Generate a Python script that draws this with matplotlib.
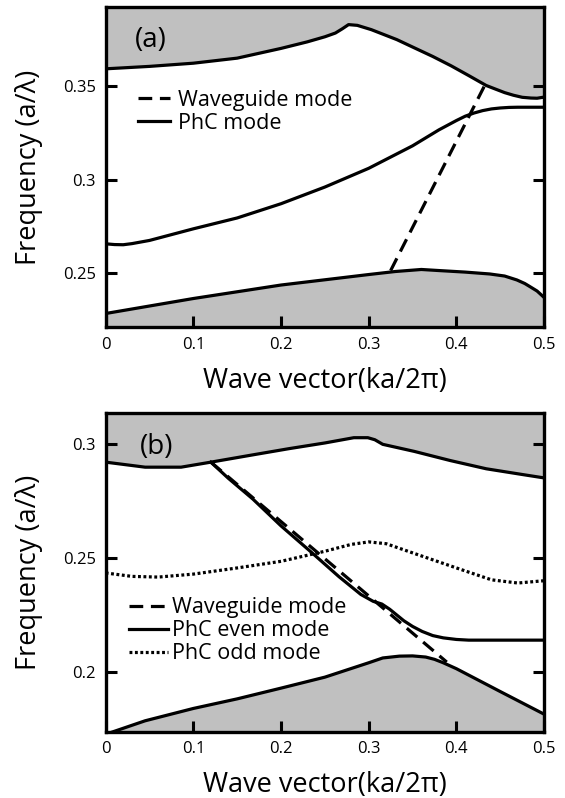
import numpy as np
import matplotlib
matplotlib.use('Agg')
import matplotlib.pyplot as plt

plt.rcParams['font.family'] = ['Open Sans', 'DejaVu Sans']

# ---- panel (a) data ----
a_upper_x = [0, 0.05, 0.1, 0.15, 0.2, 0.23, 0.25, 0.262, 0.27, 0.277, 0.287, 0.303, 0.332,
             0.352, 0.373, 0.394, 0.414, 0.434, 0.445, 0.455, 0.465, 0.475, 0.485, 0.492, 0.5]
a_upper_y = [0.3591, 0.3604, 0.3621, 0.3648, 0.3700, 0.3735, 0.3762, 0.3782, 0.3805, 0.3827,
             0.3823, 0.3800, 0.3747, 0.3703, 0.3657, 0.3607, 0.3555, 0.3502, 0.3482, 0.3464,
             0.3450, 0.3439, 0.3435, 0.3434, 0.3440]
a_lower_x = [0, 0.1, 0.2, 0.3, 0.33, 0.36, 0.381, 0.41, 0.438, 0.455, 0.469, 0.478, 0.484,
             0.492, 0.499]
a_lower_y = [0.2285, 0.2365, 0.2437, 0.2493, 0.2509, 0.2520, 0.2514, 0.2506, 0.2496, 0.2485,
             0.2464, 0.2445, 0.2428, 0.2405, 0.2375]
a_phc_x = [0, 0.01, 0.02, 0.03, 0.05, 0.1, 0.15, 0.2, 0.25, 0.3, 0.35, 0.38, 0.4, 0.41, 0.42,
           0.43, 0.44, 0.45, 0.46, 0.47, 0.5]
a_phc_y = [0.2657, 0.2653, 0.2652, 0.2658, 0.2675, 0.2737, 0.2795, 0.2871, 0.2960, 0.3060,
           0.3180, 0.3265, 0.3315, 0.3338, 0.3355, 0.3368, 0.3377, 0.3382, 0.3385, 0.3386,
           0.3386]
a_wg_x = [0.325, 0.432]
a_wg_y = [0.2514, 0.3500]

# ---- panel (b) data ----
b_upper_x = [0, 0.045, 0.086, 0.12, 0.168, 0.209, 0.25, 0.283, 0.299, 0.307, 0.316, 0.352,
             0.393, 0.434, 0.475, 0.5]
b_upper_y = [0.2919, 0.2897, 0.2897, 0.2919, 0.2951, 0.2978, 0.3003, 0.3026, 0.3026, 0.3017,
             0.2997, 0.2966, 0.2926, 0.2890, 0.2865, 0.2850]
b_lower_x = [0, 0.045, 0.1, 0.15, 0.2, 0.25, 0.3, 0.316, 0.335, 0.35, 0.365, 0.375, 0.385,
             0.4, 0.45, 0.5]
b_lower_y = [0.1728, 0.1787, 0.1841, 0.1883, 0.1930, 0.1978, 0.2041, 0.2062, 0.2070, 0.2071,
             0.2066, 0.2056, 0.2041, 0.2015, 0.1915, 0.1816]
b_wg_x = [0.12, 0.389]
b_wg_y = [0.2919, 0.2044]
b_even_x = [0.12, 0.14, 0.168, 0.2, 0.2336, 0.266, 0.291, 0.305, 0.315, 0.324, 0.34, 0.35,
            0.361, 0.373, 0.385, 0.4, 0.414, 0.5]
b_even_y = [0.2919, 0.2848, 0.2757, 0.2640, 0.2528, 0.2418, 0.2340, 0.2310, 0.2298, 0.2275,
            0.2225, 0.2200, 0.2178, 0.2160, 0.2150, 0.2143, 0.2140, 0.2140]
b_odd_x = [0, 0.03, 0.06, 0.1, 0.15, 0.2, 0.25, 0.28, 0.3, 0.32, 0.35, 0.4, 0.44, 0.47, 0.5]
b_odd_y = [0.2434, 0.2419, 0.2416, 0.2429, 0.2456, 0.2485, 0.2529, 0.2559, 0.2570, 0.2562,
           0.2522, 0.2456, 0.2404, 0.2390, 0.2400]

x_ticks = [0, 0.1, 0.2, 0.3, 0.4, 0.5]
x_ticklabels = ['0', '0.1', '0.2', '0.3', '0.4', '0.5']
a_yticks = [0.25, 0.3, 0.35]
a_yticklabels = ['0.25', '0.3', '0.35']
b_yticks = [0.2, 0.25, 0.3]
b_yticklabels = ['0.2', '0.25', '0.3']

grey = '#c0c0c0'
lw = 2.3
dash = (0, (4.3, 2.4))
dot = (0, (0.9, 0.8))

fig = plt.figure(figsize=(5.65, 7.98), dpi=100)
ax1 = fig.add_axes([0.187, 0.590, 0.776, 0.401])
ax2 = fig.add_axes([0.187, 0.083, 0.776, 0.400])


def style(ax, yt, ytl, ylim):
    ax.set_xlim(0, 0.5)
    ax.set_ylim(*ylim)
    ax.set_xticks(x_ticks)
    ax.set_xticklabels(x_ticklabels)
    ax.set_yticks(yt)
    ax.set_yticklabels(ytl)
    ax.tick_params(direction='in', length=8, width=2.2, labelsize=12, pad=7,
                   left=True, right=True, bottom=True, top=False)
    for s in ax.spines.values():
        s.set_linewidth(2.4)
    ax.set_xlabel('Wave vector(ka/2\u03c0)', fontsize=19.5, labelpad=10)
    ax.set_ylabel('Frequency (a/\u03bb)', fontsize=19.5, labelpad=14)


# panel (a)
ax1.fill_between(a_upper_x, a_upper_y, 1, color=grey, lw=0)
ax1.fill_between(a_lower_x, 0, a_lower_y, color=grey, lw=0)
ax1.plot(a_upper_x, a_upper_y, 'k', lw=lw)
ax1.plot(a_lower_x, a_lower_y, 'k', lw=lw)
ax1.plot(a_wg_x, a_wg_y, 'k', lw=lw, ls=dash, label='Waveguide mode')
ax1.plot(a_phc_x, a_phc_y, 'k', lw=lw, label='PhC mode')
style(ax1, a_yticks, a_yticklabels, (0.2212, 0.392))
ax1.text(0.104, 0.897, '(a)', transform=ax1.transAxes, fontsize=20,
         ha='center', va='center')
ax1.legend(loc='upper left', bbox_to_anchor=(0.074, 0.742), frameon=False,
           fontsize=15.5, handlelength=1.5, handletextpad=0.35, labelspacing=0.1,
           borderpad=0, borderaxespad=0)

# panel (b)
ax2.fill_between(b_upper_x, b_upper_y, 1, color=grey, lw=0)
ax2.fill_between(b_lower_x, 0, b_lower_y, color=grey, lw=0)
ax2.plot(b_upper_x, b_upper_y, 'k', lw=lw)
ax2.plot(b_lower_x, b_lower_y, 'k', lw=lw)
ax2.plot(b_wg_x, b_wg_y, 'k', lw=lw, ls=dash, label='Waveguide mode')
ax2.plot(b_even_x, b_even_y, 'k', lw=lw, label='PhC even mode')
ax2.plot(b_odd_x, b_odd_y, 'k', lw=lw, ls=dot, label='PhC odd mode')
style(ax2, b_yticks, b_yticklabels, (0.1739, 0.3136))
ax2.text(0.116, 0.892, '(b)', transform=ax2.transAxes, fontsize=20,
         ha='center', va='center')
ax2.legend(loc='upper left', bbox_to_anchor=(0.053, 0.422), frameon=False,
           fontsize=15.5, handlelength=1.8, handletextpad=0.2, labelspacing=0.1,
           borderpad=0, borderaxespad=0)

fig.savefig('out.png', dpi=100)
